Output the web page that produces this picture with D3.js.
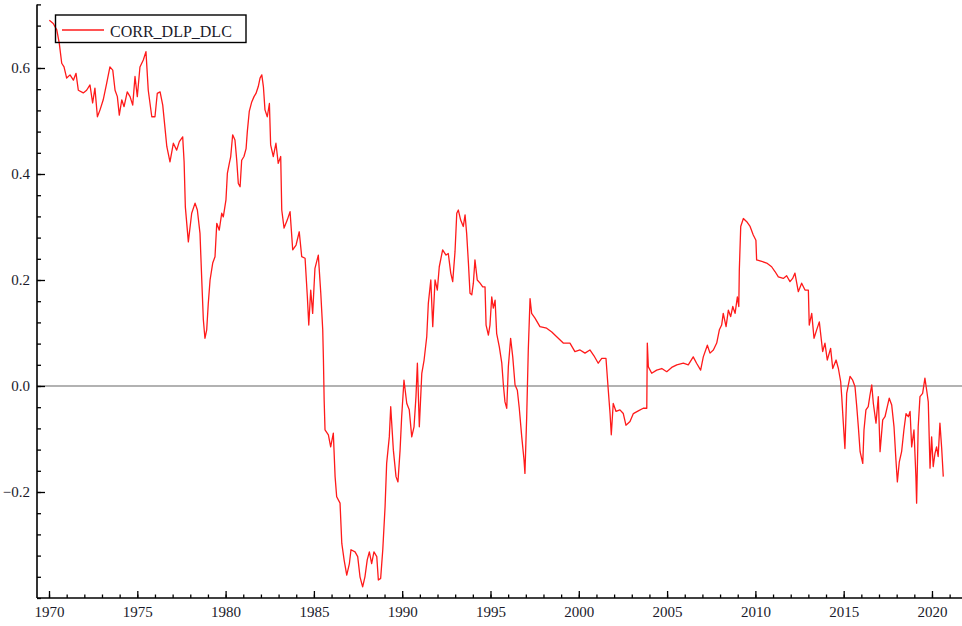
<!DOCTYPE html>
<html>
<head>
<meta charset="utf-8">
<script src="https://cdn.jsdelivr.net/npm/d3@7"></script>
<style>
  html, body { margin: 0; padding: 0; background: #fff; }
  svg { display: block; }
</style>
</head>
<body>
<svg id="chart" width="962" height="626"></svg>
<script>
// ---- data ----
const seriesName = "CORR_DLP_DLC";
const years = [
1970.02,1970.24,1970.44,1970.58,1970.72,1970.85,1971.00,1971.19,1971.38,1971.53,1971.66,1971.94,1972.13,1972.32,1972.47,1972.60,1972.74,1972.89,
1973.07,1973.27,1973.45,1973.61,1973.74,1973.87,1973.98,1974.12,1974.25,1974.43,1974.59,1974.74,1974.87,1975.00,1975.15,1975.34,1975.49,1975.62,
1975.82,1976.00,1976.13,1976.29,1976.44,1976.57,1976.67,1976.85,1977.04,1977.23,1977.38,1977.57,1977.65,1977.72,1977.89,1978.08,1978.27,1978.40,
1978.55,1978.65,1978.74,1978.83,1978.93,1979.02,1979.12,1979.27,1979.40,1979.50,1979.64,1979.78,1979.87,1980.02,1980.10,1980.21,1980.29,1980.40,
1980.53,1980.63,1980.72,1980.82,1980.91,1981.04,1981.16,1981.23,1981.34,1981.48,1981.61,1981.72,1981.85,1981.95,1982.05,1982.14,1982.23,1982.36,
1982.48,1982.55,1982.70,1982.85,1982.98,1983.12,1983.18,1983.31,1983.49,1983.65,1983.80,1983.99,1984.17,1984.31,1984.50,1984.63,1984.71,1984.82,
1984.93,1985.06,1985.25,1985.39,1985.50,1985.54,1985.58,1985.63,1985.82,1985.95,1986.10,1986.20,1986.29,1986.48,1986.58,1986.71,1986.86,1987.01,
1987.10,1987.33,1987.48,1987.61,1987.76,1987.89,1988.02,1988.14,1988.27,1988.40,1988.56,1988.65,1988.78,1988.90,1989.03,1989.12,1989.27,1989.35,
1989.50,1989.65,1989.76,1989.88,1989.97,1990.10,1990.26,1990.40,1990.54,1990.67,1990.78,1990.86,1990.97,1991.11,1991.24,1991.39,1991.48,1991.62,
1991.73,1991.86,1991.99,1992.10,1992.29,1992.48,1992.61,1992.75,1992.86,1992.99,1993.09,1993.18,1993.31,1993.46,1993.56,1993.65,1993.75,1993.84,
1993.94,1994.03,1994.12,1994.25,1994.41,1994.56,1994.69,1994.75,1994.88,1994.97,1995.07,1995.16,1995.26,1995.35,1995.50,1995.64,1995.73,1995.82,
1995.92,1996.01,1996.14,1996.26,1996.39,1996.52,1996.63,1996.77,1996.90,1996.95,1997.05,1997.14,1997.24,1997.33,1997.52,1997.80,1998.18,1998.47,
1998.75,1999.12,1999.50,1999.78,2000.07,2000.35,2000.63,2000.86,2001.10,2001.30,2001.54,2001.67,2001.77,2001.84,2001.95,2002.11,2002.33,2002.52,
2002.67,2002.90,2003.09,2003.37,2003.65,2003.85,2003.88,2003.94,2004.13,2004.41,2004.70,2004.98,2005.26,2005.55,2005.92,2006.20,2006.48,2006.67,
2006.90,2007.05,2007.28,2007.43,2007.62,2007.81,2007.96,2008.09,2008.18,2008.34,2008.47,2008.60,2008.72,2008.85,2008.98,2009.06,2009.09,2009.17,
2009.32,2009.51,2009.70,2009.88,2010.03,2010.07,2010.36,2010.64,2010.92,2011.11,2011.30,2011.58,2011.77,2011.96,2012.11,2012.24,2012.43,2012.62,
2012.81,2013.00,2013.05,2013.19,2013.32,2013.47,2013.62,2013.81,2013.94,2014.07,2014.26,2014.38,2014.57,2014.70,2014.83,2014.89,2014.98,2015.07,
2015.17,2015.36,2015.51,2015.64,2015.74,2015.83,2015.93,2016.08,2016.15,2016.26,2016.39,2016.49,2016.59,2016.68,2016.83,2016.96,2017.06,2017.21,
2017.34,2017.47,2017.58,2017.72,2017.85,2017.96,2018.04,2018.15,2018.28,2018.41,2018.53,2018.66,2018.76,2018.85,2018.98,2019.09,2019.13,2019.22,
2019.32,2019.47,2019.60,2019.70,2019.79,2019.89,2019.98,2020.07,2020.17,2020.26,2020.35,2020.45,2020.55,2020.64
];
const corr = [
0.690,0.684,0.672,0.647,0.609,0.602,0.581,0.587,0.577,0.590,0.558,0.553,0.558,0.568,0.534,0.562,0.508,0.521,
0.540,0.572,0.602,0.596,0.558,0.546,0.511,0.540,0.527,0.555,0.546,0.530,0.584,0.546,0.602,0.615,0.631,0.558,
0.508,0.508,0.552,0.555,0.530,0.486,0.452,0.423,0.458,0.445,0.461,0.470,0.423,0.338,0.272,0.326,0.345,0.332,
0.288,0.200,0.125,0.090,0.106,0.156,0.200,0.232,0.244,0.307,0.294,0.326,0.319,0.351,0.401,0.420,0.433,0.474,
0.464,0.426,0.382,0.376,0.426,0.433,0.448,0.480,0.518,0.536,0.546,0.552,0.565,0.581,0.587,0.565,0.521,0.508,
0.533,0.455,0.433,0.458,0.420,0.433,0.332,0.298,0.313,0.329,0.257,0.266,0.291,0.244,0.241,0.168,0.115,0.181,
0.137,0.222,0.247,0.175,0.106,0.049,-0.026,-0.083,-0.092,-0.115,-0.089,-0.171,-0.209,-0.221,-0.297,-0.328,-0.357,-0.335,
-0.309,-0.313,-0.322,-0.360,-0.379,-0.360,-0.328,-0.313,-0.335,-0.313,-0.322,-0.366,-0.363,-0.309,-0.228,-0.146,-0.096,-0.039,
-0.121,-0.171,-0.181,-0.121,-0.058,0.011,-0.033,-0.045,-0.096,-0.077,-0.020,0.043,-0.077,0.024,0.049,0.093,0.156,0.200,
0.112,0.200,0.181,0.225,0.257,0.247,0.250,0.213,0.197,0.253,0.326,0.332,0.313,0.301,0.323,0.288,0.232,0.175,
0.172,0.194,0.238,0.200,0.194,0.187,0.187,0.115,0.096,0.115,0.168,0.147,0.162,0.099,0.074,0.043,0.002,-0.030,
-0.042,0.036,0.090,0.055,0.002,-0.008,-0.042,-0.096,-0.140,-0.165,-0.058,0.068,0.165,0.137,0.128,0.112,0.109,0.102,
0.093,0.081,0.081,0.065,0.068,0.062,0.068,0.057,0.043,0.052,0.052,-0.008,-0.052,-0.092,-0.033,-0.048,-0.045,-0.052,
-0.074,-0.067,-0.052,-0.047,-0.042,-0.042,0.081,0.036,0.024,0.030,0.033,0.027,0.035,0.040,0.043,0.040,0.055,0.043,
0.030,0.055,0.077,0.062,0.068,0.081,0.106,0.115,0.137,0.112,0.143,0.131,0.150,0.137,0.168,0.150,0.219,0.301,
0.316,0.310,0.301,0.285,0.275,0.238,0.235,0.232,0.225,0.216,0.206,0.203,0.208,0.197,0.203,0.213,0.178,0.194,
0.181,0.181,0.115,0.137,0.090,0.106,0.121,0.065,0.081,0.049,0.071,0.033,0.049,0.033,0.008,-0.020,-0.070,-0.118,
-0.014,0.018,0.011,-0.001,-0.039,-0.077,-0.124,-0.146,-0.083,-0.045,-0.039,-0.017,0.002,-0.033,-0.070,-0.020,-0.124,-0.064,
-0.058,-0.039,-0.023,-0.036,-0.077,-0.140,-0.181,-0.143,-0.124,-0.083,-0.052,-0.058,-0.048,-0.115,-0.083,-0.171,-0.221,-0.077,
-0.020,-0.014,0.015,-0.008,-0.030,-0.155,-0.096,-0.152,-0.127,-0.115,-0.133,-0.070,-0.118,-0.171
];
const xMajorTicks = [1970, 1975, 1980, 1985, 1990, 1995, 2000, 2005, 2010, 2015, 2020];
const xMinorTicks = d3.range(1970, 2022, 1);
const yMajorTicks = [-0.2, 0.0, 0.2, 0.4, 0.6];
const yMinorTicks = d3.range(-0.40, 0.7201, 0.04);
const xDomain = [1969.32, 2021.70];
const yDomain = [-0.40, 0.72];

// ---- layout ----
const svg = d3.select("#chart");
const L = 37, R = 962, T = 4.4, B = 598;
const x = d3.scaleLinear().domain(xDomain).range([L, R]);
const y = d3.scaleLinear().domain(yDomain).range([B, T]);
const font = "'Liberation Serif', 'Times New Roman', serif";
const ink = "#1a1a2a";

// zero line
svg.append("line")
  .attr("x1", L).attr("x2", R)
  .attr("y1", y(0)).attr("y2", y(0))
  .attr("stroke", "#999").attr("stroke-width", 1.6);

// series
const data = years.map((t, i) => ({ t, v: corr[i] }));
svg.append("path")
  .datum(data)
  .attr("fill", "none")
  .attr("stroke", "#ff1a1a")
  .attr("stroke-width", 1.3)
  .attr("stroke-linejoin", "round")
  .attr("d", d3.line().x(d => x(d.t)).y(d => y(d.v)));

// bottom axis (ticks pointing inward)
const gx = svg.append("g").attr("transform", `translate(0,${B})`);
gx.call(d3.axisBottom(x).tickValues(xMinorTicks).tickSize(-3.5).tickFormat(""))
  .call(g => g.select(".domain").remove());
gx.append("g").call(d3.axisBottom(x).tickValues(xMajorTicks).tickSize(-7).tickFormat(d3.format("d")).tickPadding(8.5))
  .call(g => g.select(".domain").remove());
gx.selectAll("line").attr("stroke", "#000").attr("stroke-width", 1.3);
gx.selectAll("text").attr("font-family", font).attr("font-size", 15).attr("fill", ink);

// left axis (ticks pointing inward)
const gy = svg.append("g").attr("transform", `translate(${L},0)`);
gy.call(d3.axisLeft(y).tickValues(yMinorTicks).tickSize(-4).tickFormat(""))
  .call(g => g.select(".domain").remove());
gy.append("g").call(d3.axisLeft(y).tickValues(yMajorTicks).tickSize(-8).tickFormat(d3.format(".1f")).tickPadding(7))
  .call(g => g.select(".domain").remove());
gy.selectAll("line").attr("stroke", "#000").attr("stroke-width", 1.3);
gy.selectAll("text").attr("font-family", font).attr("font-size", 15).attr("fill", ink);

// axis lines
svg.append("line").attr("x1", L).attr("x2", R).attr("y1", B).attr("y2", B)
  .attr("stroke", "#000").attr("stroke-width", 1.6);
svg.append("line").attr("x1", L).attr("x2", L).attr("y1", T).attr("y2", B)
  .attr("stroke", "#000").attr("stroke-width", 1.6);

// legend
const lg = svg.append("g");
lg.append("rect").attr("x", 55.5).attr("y", 15).attr("width", 190.5).attr("height", 27.5)
  .attr("fill", "none").attr("stroke", "#000").attr("stroke-width", 1.4);
lg.append("line").attr("x1", 62).attr("x2", 104).attr("y1", 30).attr("y2", 30)
  .attr("stroke", "#ff1a1a").attr("stroke-width", 1.3);
lg.append("text").attr("x", 110).attr("y", 36.5).text(seriesName)
  .attr("font-family", font).attr("font-size", 16).attr("fill", ink);
</script>
</body>
</html>
